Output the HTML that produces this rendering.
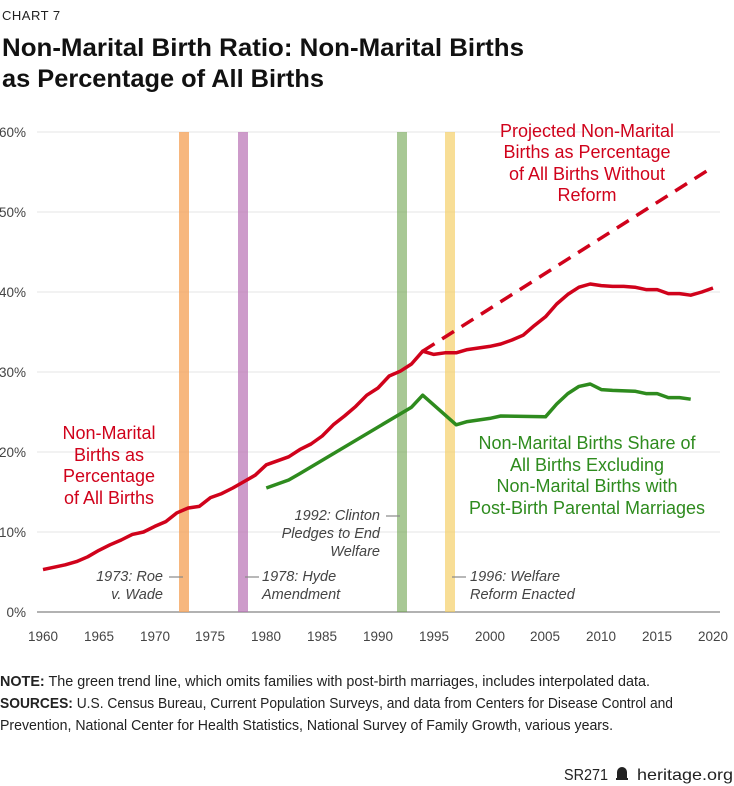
<!DOCTYPE html>
<html><head><meta charset="utf-8"><style>
html,body{margin:0;padding:0;background:#fff;}
svg{display:block;font-family:"Liberation Sans",sans-serif;}
</style></head><body>
<svg width="734" height="786" viewBox="0 0 734 786" xmlns="http://www.w3.org/2000/svg">
<text x="2" y="20" font-size="13" fill="#222" letter-spacing="0.5">CHART 7</text>
<text x="2" y="56" font-size="25" font-weight="bold" fill="#111" textLength="522" lengthAdjust="spacingAndGlyphs">Non-Marital Birth Ratio: Non-Marital Births</text>
<text x="2" y="87" font-size="25" font-weight="bold" fill="#111" textLength="322" lengthAdjust="spacingAndGlyphs">as Percentage of All Births</text>

<g stroke="#e6e6e6" stroke-width="1">
<line x1="37" y1="132" x2="720" y2="132"/><line x1="37" y1="212" x2="720" y2="212"/>
<line x1="37" y1="292" x2="720" y2="292"/><line x1="37" y1="372" x2="720" y2="372"/>
<line x1="37" y1="452" x2="720" y2="452"/><line x1="37" y1="532" x2="720" y2="532"/>
</g>
<line x1="37" y1="612" x2="720" y2="612" stroke="#999" stroke-width="1.5"/>
<g font-size="13.5" fill="#444" text-anchor="end">
<text x="26" y="137">60%</text><text x="26" y="217">50%</text><text x="26" y="297">40%</text>
<text x="26" y="377">30%</text><text x="26" y="457">20%</text><text x="26" y="537">10%</text><text x="26" y="617">0%</text>
</g>
<g font-size="13.5" fill="#444" text-anchor="middle">
<text x="43" y="641">1960</text><text x="99" y="641">1965</text><text x="155" y="641">1970</text>
<text x="210" y="641">1975</text><text x="266" y="641">1980</text><text x="322" y="641">1985</text>
<text x="378" y="641">1990</text><text x="434" y="641">1995</text><text x="490" y="641">2000</text>
<text x="545" y="641">2005</text><text x="601" y="641">2010</text><text x="657" y="641">2015</text><text x="713" y="641">2020</text>
</g>

<rect x="179" y="132" width="10" height="480" fill="#f5a55e" opacity="0.8"/>
<rect x="238" y="132" width="10" height="480" fill="#b870b4" opacity="0.7"/>
<rect x="397" y="132" width="10" height="480" fill="#6ea34f" opacity="0.6"/>
<rect x="445" y="132" width="10" height="480" fill="#f5cd5e" opacity="0.65"/>

<polyline fill="none" stroke="#d0021b" stroke-width="3.5" stroke-linejoin="round" points="43,569.6 54.2,567.2 65.3,564.8 76.5,561.6 87.7,556.8 98.8,550.4 110,544.8 121.2,540 132.3,534.4 143.5,532 154.7,526.4 165.8,521.6 177,512.8 188.2,508 199.3,506.4 210.5,497.6 221.7,493.6 232.8,488 244,481.6 255.2,475.2 266.3,464.8 277.5,460.8 288.7,456.8 299.8,449.6 311,444 322.2,436 333.3,424.8 344.5,416 355.7,406.4 366.8,395.2 378,388 389.2,376 400.3,371.2 411.5,364 422.7,351.2 433.8,354.4 445,352.8 456.2,352.8 467.3,349.6 478.5,348 489.7,346.4 500.8,344 512,340 523.2,335.2 534.3,325.6 545.5,316.8 556.7,304 567.8,294.4 579,287.2 590.2,284 601.3,285.6 612.5,286.4 623.7,286.4 634.8,287.2 646,289.6 657.2,289.6 668.3,293.6 679.5,293.6 690.7,295.2 701.8,292 713,288"/>
<line x1="422.7" y1="351.2" x2="713" y2="167" stroke="#d0021b" stroke-width="3.5" stroke-dasharray="14,9"/>
<polyline fill="none" stroke="#2e8b1e" stroke-width="3.5" stroke-linejoin="round" points="266.3,488 288.7,480 299.8,473.6 411.5,407.2 422.7,395.2 456.2,424.8 467.3,421.6 478.5,420 489.7,418.4 500.8,416 545.5,416.8 556.7,404 567.8,393.6 579,386.4 590.2,384 601.3,389.6 612.5,390.4 634.8,391.2 646,393.6 657.2,393.6 668.3,397.6 679.5,397.6 690.7,399.2"/>

<g font-size="18" fill="#d0021b" text-anchor="middle">
<text x="109" y="439">Non-Marital</text><text x="109" y="461">Births as</text>
<text x="109" y="482">Percentage</text><text x="109" y="504">of All Births</text>
<text x="587" y="137">Projected Non-Marital</text><text x="587" y="158">Births as Percentage</text>
<text x="587" y="180">of All Births Without</text><text x="587" y="201">Reform</text>
</g>
<g font-size="18" fill="#2e8b1e" text-anchor="middle">
<text x="587" y="449">Non-Marital Births Share of</text><text x="587" y="471">All Births Excluding</text>
<text x="587" y="492">Non-Marital Births with</text><text x="587" y="514">Post-Birth Parental Marriages</text>
</g>
<g font-size="14.5" fill="#444" font-style="italic">
<text x="163" y="581" text-anchor="end">1973: Roe</text><text x="163" y="599" text-anchor="end">v. Wade</text>
<text x="262" y="581">1978: Hyde</text><text x="262" y="599">Amendment</text>
<text x="380" y="520" text-anchor="end">1992: Clinton</text><text x="380" y="538" text-anchor="end">Pledges to End</text><text x="380" y="556" text-anchor="end">Welfare</text>
<text x="470" y="581">1996: Welfare</text><text x="470" y="599">Reform Enacted</text>
</g>
<g stroke="#888" stroke-width="1.2">
<line x1="169" y1="577" x2="183" y2="577"/><line x1="245" y1="577" x2="259" y2="577"/>
<line x1="386" y1="516" x2="400" y2="516"/><line x1="452" y1="577" x2="466" y2="577"/>
</g>

<g font-size="15" fill="#222" font-family="'Liberation Sans Narrow','Liberation Sans',sans-serif">
<text x="0" y="686" textLength="650" lengthAdjust="spacingAndGlyphs"><tspan font-weight="bold">NOTE:</tspan> The green trend line, which omits families with post-birth marriages, includes interpolated data.</text>
<text x="0" y="708" textLength="673" lengthAdjust="spacingAndGlyphs"><tspan font-weight="bold">SOURCES:</tspan> U.S. Census Bureau, Current Population Surveys, and data from Centers for Disease Control and</text>
<text x="0" y="730" textLength="613" lengthAdjust="spacingAndGlyphs">Prevention, National Center for Health Statistics, National Survey of Family Growth, various years.</text>
<text x="564" y="780" font-size="16" textLength="44" lengthAdjust="spacingAndGlyphs">SR271</text>
<text x="637" y="780" font-size="16" textLength="96" lengthAdjust="spacingAndGlyphs">heritage.org</text>
</g>
<path d="M616,780 h12 v-2 h-1 v-6 a5,5 0 0 0 -10,0 v6 h-1 z" fill="#222"/>
</svg>
</body></html>
